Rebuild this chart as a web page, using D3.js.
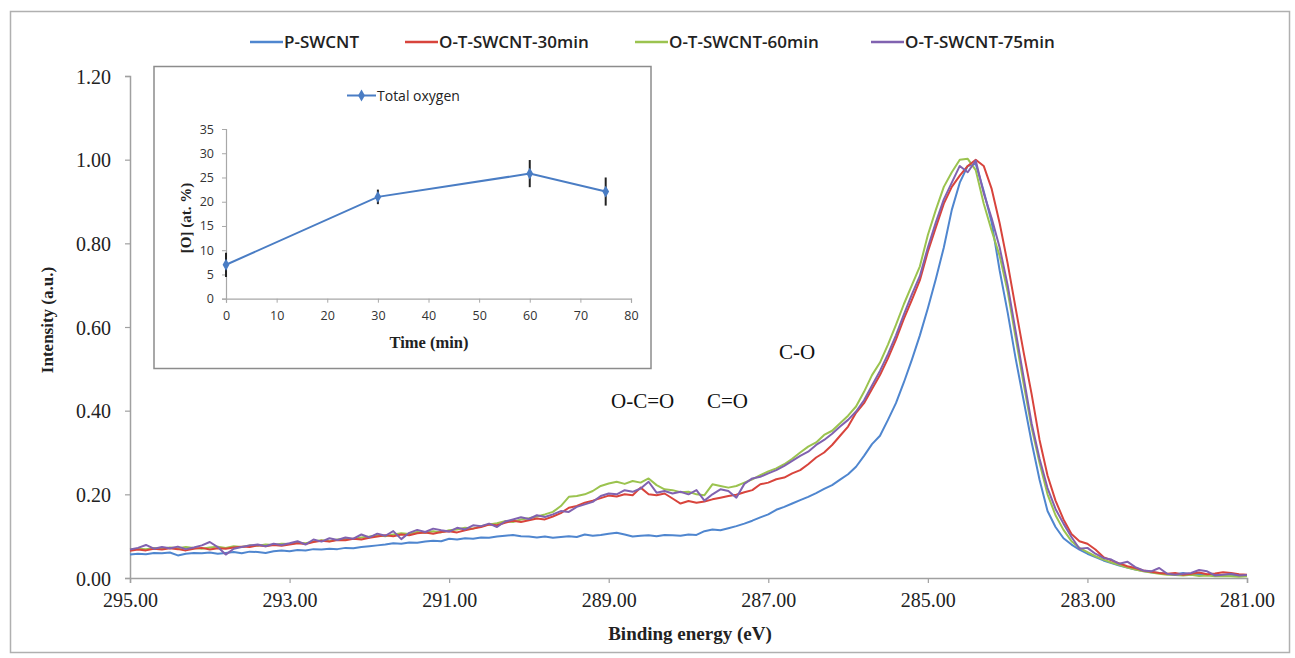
<!DOCTYPE html>
<html>
<head>
<meta charset="utf-8">
<script src="https://cdn.jsdelivr.net/npm/d3@7"></script>
<style>
  body { margin: 0; background: #fff; }
</style>
</head>
<body>
<svg id="chart" width="1295" height="658"></svg>
<script>
// Binding energy grid (eV), high to low
const energy = [
  295.0,294.9,294.8,294.7,294.6,294.5,294.4,294.3,294.2,294.1,
  294.0,293.9,293.8,293.7,293.6,293.5,293.4,293.3,293.2,293.1,
  293.0,292.9,292.8,292.7,292.6,292.5,292.4,292.3,292.2,292.1,
  292.0,291.9,291.8,291.7,291.6,291.5,291.4,291.3,291.2,291.1,
  291.0,290.9,290.8,290.7,290.6,290.5,290.4,290.3,290.2,290.1,
  290.0,289.9,289.8,289.7,289.6,289.5,289.4,289.3,289.2,289.1,
  289.0,288.9,288.8,288.7,288.6,288.5,288.4,288.3,288.2,288.1,
  288.0,287.9,287.8,287.7,287.6,287.5,287.4,287.3,287.2,287.1,
  287.0,286.9,286.8,286.7,286.6,286.5,286.4,286.3,286.2,286.1,
  286.0,285.9,285.8,285.7,285.6,285.5,285.4,285.3,285.2,285.1,
  285.0,284.9,284.8,284.7,284.6,284.5,284.4,284.3,284.2,284.1,
  284.0,283.9,283.8,283.7,283.6,283.5,283.4,283.3,283.2,283.1,
  283.0,282.9,282.8,282.7,282.6,282.5,282.4,282.3,282.2,282.1,
  282.0,281.9,281.8,281.7,281.6,281.5,281.4,281.3,281.2,281.1,
  281.0
];

const pSwcnt = [
  0.056,0.058,0.057,0.060,0.059,0.061,0.054,0.058,0.060,0.059,
  0.061,0.058,0.060,0.062,0.059,0.063,0.062,0.060,0.064,0.066,
  0.064,0.067,0.066,0.069,0.068,0.070,0.069,0.072,0.071,0.074,
  0.076,0.078,0.080,0.083,0.082,0.085,0.084,0.087,0.089,0.088,
  0.094,0.092,0.095,0.094,0.097,0.096,0.099,0.101,0.103,0.100,
  0.099,0.097,0.099,0.096,0.098,0.100,0.098,0.104,0.101,0.103,
  0.106,0.108,0.104,0.099,0.101,0.102,0.100,0.103,0.102,0.101,
  0.104,0.103,0.112,0.116,0.114,0.119,0.124,0.130,0.137,0.145,
  0.152,0.163,0.170,0.178,0.186,0.194,0.203,0.213,0.222,0.235,
  0.248,0.266,0.292,0.320,0.340,0.378,0.418,0.468,0.522,0.580,
  0.645,0.715,0.790,0.880,0.945,0.985,0.990,0.925,0.850,0.735,
  0.635,0.525,0.425,0.325,0.235,0.160,0.122,0.095,0.080,0.068,
  0.058,0.050,0.042,0.036,0.030,0.025,0.020,0.017,0.014,0.012,
  0.010,0.009,0.012,0.008,0.010,0.007,0.008,0.006,0.007,0.005,
  0.006
];

const ot30 = [
  0.065,0.068,0.066,0.070,0.068,0.071,0.069,0.066,0.070,0.072,
  0.068,0.071,0.070,0.073,0.075,0.074,0.078,0.076,0.079,0.077,
  0.080,0.083,0.081,0.086,0.089,0.087,0.091,0.090,0.094,0.092,
  0.096,0.099,0.102,0.100,0.104,0.102,0.107,0.109,0.106,0.110,
  0.112,0.109,0.114,0.118,0.122,0.128,0.126,0.132,0.137,0.134,
  0.138,0.142,0.140,0.147,0.155,0.168,0.172,0.180,0.185,0.191,
  0.197,0.195,0.200,0.198,0.216,0.200,0.198,0.202,0.190,0.178,
  0.184,0.180,0.183,0.188,0.192,0.196,0.199,0.205,0.210,0.224,
  0.228,0.236,0.240,0.250,0.258,0.272,0.288,0.300,0.318,0.340,
  0.362,0.395,0.418,0.452,0.485,0.525,0.570,0.620,0.665,0.712,
  0.780,0.838,0.895,0.935,0.962,0.985,1.000,0.985,0.930,0.848,
  0.752,0.645,0.540,0.440,0.330,0.245,0.185,0.140,0.105,0.088,
  0.082,0.068,0.050,0.042,0.035,0.028,0.024,0.018,0.015,0.012,
  0.010,0.012,0.008,0.010,0.013,0.009,0.011,0.014,0.012,0.009,
  0.008
];

const ot60 = [
  0.068,0.070,0.069,0.072,0.070,0.073,0.071,0.074,0.072,0.070,
  0.073,0.075,0.072,0.076,0.074,0.078,0.077,0.080,0.079,0.082,
  0.081,0.084,0.083,0.087,0.090,0.088,0.092,0.094,0.093,0.097,
  0.099,0.102,0.100,0.104,0.107,0.105,0.110,0.108,0.112,0.109,
  0.114,0.116,0.120,0.118,0.124,0.128,0.131,0.136,0.134,0.140,
  0.143,0.147,0.152,0.158,0.172,0.194,0.196,0.200,0.208,0.220,
  0.226,0.230,0.225,0.232,0.228,0.238,0.222,0.212,0.210,0.205,
  0.206,0.200,0.198,0.224,0.220,0.216,0.220,0.228,0.236,0.246,
  0.255,0.262,0.272,0.285,0.300,0.314,0.324,0.342,0.352,0.370,
  0.388,0.410,0.445,0.485,0.515,0.558,0.605,0.655,0.700,0.745,
  0.820,0.880,0.935,0.970,1.000,1.002,0.975,0.895,0.830,0.770,
  0.685,0.575,0.465,0.360,0.275,0.200,0.150,0.115,0.088,0.072,
  0.062,0.052,0.044,0.037,0.031,0.025,0.020,0.016,0.013,0.010,
  0.008,0.007,0.006,0.008,0.005,0.006,0.004,0.005,0.004,0.003,
  0.004
];

const ot75 = [
  0.068,0.072,0.079,0.070,0.074,0.071,0.075,0.069,0.073,0.078,
  0.086,0.074,0.056,0.070,0.074,0.078,0.080,0.076,0.082,0.079,
  0.083,0.088,0.080,0.092,0.087,0.095,0.091,0.097,0.094,0.104,
  0.097,0.106,0.101,0.112,0.093,0.108,0.115,0.110,0.118,0.114,
  0.111,0.120,0.116,0.126,0.124,0.130,0.122,0.135,0.140,0.145,
  0.141,0.150,0.146,0.152,0.160,0.158,0.170,0.176,0.182,0.196,
  0.202,0.200,0.210,0.206,0.214,0.230,0.204,0.208,0.202,0.206,
  0.200,0.210,0.185,0.200,0.212,0.208,0.192,0.225,0.238,0.242,
  0.250,0.258,0.268,0.280,0.292,0.302,0.318,0.330,0.345,0.362,
  0.378,0.398,0.425,0.460,0.495,0.535,0.580,0.630,0.678,0.722,
  0.790,0.850,0.905,0.945,0.985,0.970,0.998,0.920,0.860,0.790,
  0.700,0.590,0.480,0.370,0.285,0.215,0.165,0.130,0.098,0.070,
  0.072,0.058,0.048,0.044,0.034,0.039,0.026,0.018,0.016,0.024,
  0.010,0.008,0.010,0.012,0.019,0.016,0.006,0.008,0.010,0.006,
  0.007
];

const seriesNames = ['P-SWCNT', 'O-T-SWCNT-30min', 'O-T-SWCNT-60min', 'O-T-SWCNT-75min'];
const seriesValues = [pSwcnt, ot30, ot60, ot75];
const seriesColors = ['#4f86cf', '#d8443c', '#9bc34f', '#8062b0'];
// drawing order: blue, green, red, purple on top
const drawOrder = [0, 2, 1, 3];

const xTicks = [295, 293, 291, 289, 287, 285, 283, 281];
const yTicks = [0, 0.2, 0.4, 0.6, 0.8, 1.0, 1.2];

const peakLabels = ['C-O', 'O-C=O', 'C=O'];

// inset: total oxygen vs treatment time
const insetTime = [0, 30, 60, 75];
const insetOxygen = [7.0, 21.0, 25.8, 22.1];
const insetError = [2.5, 1.5, 2.8, 2.9];
const insetXTicks = [0, 10, 20, 30, 40, 50, 60, 70, 80];
const insetYTicks = [0, 5, 10, 15, 20, 25, 30, 35];

const SERIF = '"Liberation Serif", "DejaVu Serif", serif';
const SANS = '"Open Sans", "Noto Sans", sans-serif';

const svg = d3.select('#chart');

// outer frame
svg.append('rect')
  .attr('x', 10.5).attr('y', 11.5)
  .attr('width', 1279).attr('height', 641)
  .attr('fill', 'none').attr('stroke', '#b0b0b0').attr('stroke-width', 1.5);

const x = d3.scaleLinear().domain([295, 281]).range([130, 1247]);
const y = d3.scaleLinear().domain([0, 1.2]).range([578, 76]);

const axisColor = '#a0a0a0';

const yAxisG = svg.append('g')
  .attr('transform', 'translate(130,0)')
  .call(d3.axisLeft(y).tickValues(yTicks).tickFormat(d3.format('.2f')).tickSize(5).tickPadding(14));
const xAxisG = svg.append('g')
  .attr('transform', 'translate(0,578)')
  .call(d3.axisBottom(x).tickValues(xTicks).tickFormat(d3.format('.2f')).tickSize(5).tickPadding(10));

[xAxisG, yAxisG].forEach(g => {
  g.attr('font-family', null).attr('font-size', null);
  g.selectAll('.domain').attr('stroke', axisColor).attr('stroke-width', 1.5);
  g.selectAll('.tick line').attr('stroke', axisColor).attr('stroke-width', 1.2);
  g.selectAll('text')
    .style('font-family', SERIF)
    .style('font-size', '20px')
    .attr('fill', '#222');
});
yAxisG.selectAll('text').attr('dy', '0.36em');

// series lines
const line = vals => d3.line()
  .x((d, i) => x(energy[i]))
  .y(d => y(d))(vals);

drawOrder.forEach(k => {
  svg.append('path')
    .attr('d', line(seriesValues[k]))
    .attr('fill', 'none')
    .attr('stroke', seriesColors[k])
    .attr('stroke-width', 2)
    .attr('stroke-linejoin', 'round');
});

// axis titles
svg.append('text')
  .attr('x', 690).attr('y', 640)
  .attr('text-anchor', 'middle')
  .style('font-family', SERIF)
  .style('font-size', '19px').style('font-weight', 'bold')
  .attr('fill', '#222')
  .text('Binding energy (eV)');

svg.append('text')
  .attr('transform', 'translate(53,320) rotate(-90)')
  .attr('text-anchor', 'middle')
  .style('font-family', SERIF)
  .style('font-size', '17px').style('font-weight', 'bold')
  .attr('fill', '#222')
  .text('Intensity (a.u.)');

// legend
const legendX = [250, 405, 635, 871];
seriesNames.forEach((name, k) => {
  const g = svg.append('g').attr('transform', `translate(${legendX[k]},42)`);
  g.append('line')
    .attr('x1', 0).attr('x2', 33).attr('y1', 0).attr('y2', 0)
    .attr('stroke', seriesColors[k]).attr('stroke-width', 2.5);
  g.append('text')
    .attr('x', 34).attr('y', 6)
    .style('font-family', SANS)
    .style('font-size', '17px').style('font-weight', 600)
    .attr('fill', '#222')
    .text(name);
});

// peak labels
const peakPos = [[779, 359], [611, 408], [707, 408]];
peakLabels.forEach((t, i) => {
  svg.append('text')
    .attr('x', peakPos[i][0]).attr('y', peakPos[i][1])
    .style('font-family', SERIF)
    .style('font-size', '21px')
    .attr('fill', '#111')
    .text(t);
});

// ---- inset ----
svg.append('rect')
  .attr('x', 154).attr('y', 66.5)
  .attr('width', 497).attr('height', 302)
  .attr('fill', '#fff').attr('stroke', '#8c8c8c').attr('stroke-width', 1.5);

const xi = d3.scaleLinear().domain([0, 80]).range([226, 631]);
const yi = d3.scaleLinear().domain([0, 35]).range([298.7, 129]);

const xiG = svg.append('g')
  .attr('transform', 'translate(0,298.7)')
  .call(d3.axisBottom(xi).tickValues(insetXTicks).tickSize(4).tickPadding(8));
const yiG = svg.append('g')
  .attr('transform', 'translate(226,0)')
  .call(d3.axisLeft(yi).tickValues(insetYTicks).tickSize(4).tickPadding(8));
[xiG, yiG].forEach(g => {
  g.attr('font-family', null).attr('font-size', null);
  g.selectAll('.domain').attr('stroke', '#a8a8a8').attr('stroke-width', 1.2);
  g.selectAll('.tick line').attr('stroke', '#a8a8a8');
  g.selectAll('text')
    .style('font-family', SANS)
    .style('font-size', '12.5px')
    .attr('fill', '#333');
});

// error bars
insetTime.forEach((t, i) => {
  svg.append('line')
    .attr('x1', xi(t)).attr('x2', xi(t))
    .attr('y1', yi(insetOxygen[i] - insetError[i]))
    .attr('y2', yi(insetOxygen[i] + insetError[i]))
    .attr('stroke', '#222').attr('stroke-width', 2);
});

svg.append('path')
  .attr('d', d3.line().x((d, i) => xi(insetTime[i])).y(d => yi(d))(insetOxygen))
  .attr('fill', 'none').attr('stroke', '#4a7dc4').attr('stroke-width', 2);

svg.selectAll('.imark').data(insetOxygen).enter().append('path')
  .attr('class', 'imark')
  .attr('transform', (d, i) => `translate(${xi(insetTime[i])},${yi(d)})`)
  .attr('d', d3.symbol().type(d3.symbolDiamond).size(40))
  .attr('fill', '#4a7dc4');

// inset legend
svg.append('line')
  .attr('x1', 347).attr('x2', 376).attr('y1', 95.5).attr('y2', 95.5)
  .attr('stroke', '#4a7dc4').attr('stroke-width', 2);
svg.append('path')
  .attr('transform', 'translate(361.5,95.5)')
  .attr('d', d3.symbol().type(d3.symbolDiamond).size(40))
  .attr('fill', '#4a7dc4');
svg.append('text')
  .attr('x', 377).attr('y', 100.5)
  .style('font-family', SANS)
  .style('font-size', '14px')
  .attr('fill', '#222')
  .text('Total oxygen');

svg.append('text')
  .attr('x', 429).attr('y', 348)
  .attr('text-anchor', 'middle')
  .style('font-family', SERIF)
  .style('font-size', '16.5px').style('font-weight', 'bold')
  .attr('fill', '#222')
  .text('Time (min)');

svg.append('text')
  .attr('transform', 'translate(191,218) rotate(-90)')
  .attr('text-anchor', 'middle')
  .style('font-family', SERIF)
  .style('font-size', '15px').style('font-weight', 'bold')
  .attr('fill', '#222')
  .text('[O] (at. %)');
</script>
</body>
</html>
